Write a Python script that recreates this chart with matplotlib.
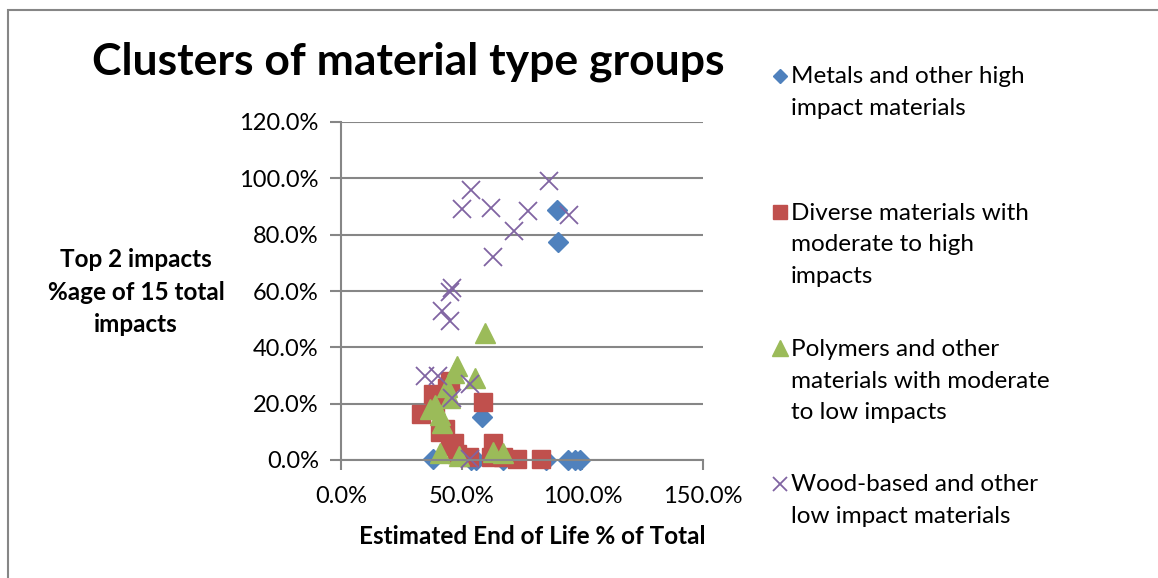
import matplotlib
matplotlib.use("Agg")
import matplotlib.pyplot as plt
from matplotlib.lines import Line2D
from matplotlib.patches import Rectangle
from matplotlib.ticker import PercentFormatter, MultipleLocator

plt.rcParams['font.family'] = ['Lato', 'DejaVu Sans']

# end-of-life share (%) vs share of the top 2 impacts (%), one list pair per cluster
metals_x = [38, 54, 56, 67, 58.5, 85, 94, 97, 99, 89.6, 90]
metals_y = [0.5, 0, 0, 0, 15.2, 0, 0, 0, 0, 88.8, 77.5]

diverse_x = [33, 38, 39, 44, 45, 41, 43, 45, 47, 48, 53, 59, 63, 62, 67, 73, 83]
diverse_y = [16.5, 23.5, 20, 25.5, 28, 10, 11, 5, 6, 2, 1, 20.5, 6, 1, 1, 0.5, 0.5]

polymer_x = [59.5, 48, 47, 55.5, 45, 37, 39, 41, 42, 41, 49, 63, 67, 44]
polymer_y = [45, 33.5, 31, 29, 22, 18, 19.5, 16, 13, 2.5, 1.5, 3, 2.5, 26]

wood_x = [86, 54, 50, 62, 77.5, 94.5, 71.5, 63, 46, 45, 42, 45, 35, 40, 53.5, 46, 53.5]
wood_y = [99, 96, 89, 89.6, 88.5, 87, 81.4, 72, 61, 59.5, 53, 49.5, 30, 30, 27, 22, 0.5]

labels = [
    "Metals and other high\nimpact materials",
    "Diverse materials with\nmoderate to high\nimpacts",
    "Polymers and other\nmaterials with moderate\nto low impacts",
    "Wood-based and other\nlow impact materials",
]

grey = "#868686"
W, H = 1158, 578
fig = plt.figure(figsize=(W / 100, H / 100), dpi=100)
fig.patch.set_facecolor("white")

# outer chart border (open at right and bottom edges)
fig.add_artist(Rectangle((8 / W, -0.1), 1.2, 1 - 10 / H + 0.1, transform=fig.transFigure,
                         fill=False, edgecolor=grey, linewidth=1.5))

ax = fig.add_axes([341 / W, 1 - 460 / H, (703 - 341) / W, (460 - 122) / H])

styles = [
    dict(marker="D", color="#4F81BD", markersize=10, linestyle="none"),
    dict(marker="s", color="#C0504D", markersize=13, linestyle="none"),
    dict(marker="^", color="#9BBB59", markersize=15, linestyle="none"),
    dict(marker="x", color="#8064A2", markersize=13, markeredgewidth=1.3, linestyle="none"),
]
series = [(metals_x, metals_y), (diverse_x, diverse_y),
          (polymer_x, polymer_y), (wood_x, wood_y)]
for (xs, ys), st in zip(series, styles):
    ax.plot(xs, ys, clip_on=False, **st)

ax.set_xlim(0, 150)
ax.set_ylim(0, 120)
ax.xaxis.set_major_locator(MultipleLocator(50))
ax.yaxis.set_major_locator(MultipleLocator(20))
ax.xaxis.set_major_formatter(PercentFormatter(xmax=100, decimals=1))
ax.yaxis.set_major_formatter(PercentFormatter(xmax=100, decimals=1))
ax.grid(axis="y", color=grey, linewidth=1.5)
ax.set_axisbelow(True)
for side in ["top", "right"]:
    ax.spines[side].set_visible(False)
for side in ["left", "bottom"]:
    ax.spines[side].set_color(grey)
    ax.spines[side].set_linewidth(1.5)
ax.tick_params(axis="x", direction="out", length=7, width=1.5, color=grey,
               labelsize=17, pad=12)
ax.tick_params(axis="y", direction="out", length=8, width=1.5, color=grey,
               labelsize=17, pad=8)

fig.text(92 / W, 1 - 62 / H, "Clusters of material type groups", fontsize=32,
         fontweight="bold", va="center", ha="left")
fig.text(136 / W, 1 - 292 / H, "Top 2 impacts\n%age of 15 total\nimpacts", fontsize=17.5,
         fontweight="bold", ha="center", va="center", linespacing=1.48)
fig.text(532 / W, 1 - 537 / H, "Estimated End of Life % of Total", fontsize=17.5,
         fontweight="bold", ha="center", va="center")

# legend drawn entry by entry
for i, (lab, st) in enumerate(zip(labels, styles)):
    y0 = 76 + 136 * i
    n = lab.count("\n") + 1
    ms = st["markersize"] * 0.75
    fig.add_artist(Line2D([780 / W], [1 - y0 / H], transform=fig.transFigure,
                          **{**st, "markersize": ms}))
    fig.text(791 / W, 1 - (y0 + (n - 1) * 33 / 2) / H, lab, fontsize=17.5,
             ha="left", va="center", linespacing=1.6)

fig.savefig("out.png", dpi=100)
